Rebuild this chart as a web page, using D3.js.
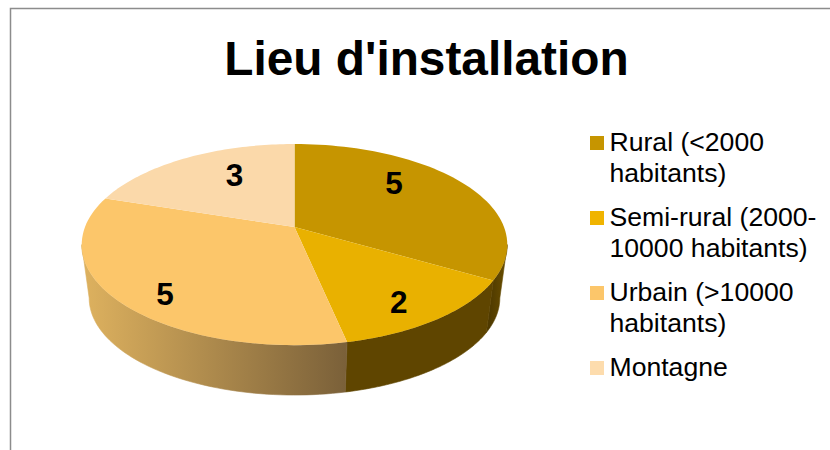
<!DOCTYPE html>
<html lang="fr">
<head>
	<meta charset="utf-8">
	<title>Lieu d'installation</title>
	<script src="https://d3js.org/d3.v7.min.js"></script>
	<style>
		html, body { margin: 0; padding: 0; background: #fff; }
		svg { display: block; }
		text { font-family: "Liberation Sans", Arial, sans-serif; fill: #000; }
	</style>
</head>
<body>
	<script>
		var titleText = "Lieu d'installation";
		var categories = ["Rural", "Semi-rural", "Urbain", "Montagne"];
		var values = [5, 2, 5, 3];
		var legendLines = [
			["Rural (<2000", "habitants)"],
			["Semi-rural (2000-", "10000 habitants)"],
			["Urbain (>10000", "habitants)"],
			["Montagne"]
		];
		var topColors = ["#c69500", "#e9b100", "#fcc66a", "#fbd9aa"];
		var legendColors = ["#c69500", "#f0b400", "#fcc66a", "#fddcad"];

		var w = 830;
		var h = 450;

		var svg = d3.select("body")
			.append("svg")
			.attr("width", w)
			.attr("height", h);

		// shading of the side wall, one gradient per slice
		var sideStops = [
			["#6b4f00", "#4f3a00"],
			["#5f4500", "#5f4500"],
			["#dcb05e", "#7a6039"],
			["#d9b06a", "#d9b06a"]
		];
		var defs = svg.append("defs");
		sideStops.forEach(function(s, i) {
			var g = defs.append("linearGradient")
				.attr("id", "side" + i)
				.attr("gradientUnits", "userSpaceOnUse")
				.attr("x1", i == 2 ? 88 : (i == 0 ? 507 : 347))
				.attr("x2", i == 2 ? 347 : 490)
				.attr("y1", 0)
				.attr("y2", 0);
			g.append("stop").attr("offset", "0%").attr("stop-color", s[0]);
			g.append("stop").attr("offset", "100%").attr("stop-color", s[1]);
		});

		// chart frame, only top and left show
		svg.append("path")
			.attr("d", "M10.5,450V8.5H830")
			.attr("fill", "none")
			.attr("stroke", "#8c8c8c")
			.attr("stroke-width", 1.5);

		svg.append("text")
			.attr("x", 426.5)
			.attr("y", 75)
			.attr("text-anchor", "middle")
			.attr("font-size", 47.8)
			.attr("font-weight", "bold")
			.text(titleText);

		// disc in perspective: unit circle -> screen, nearer edge is bigger
		var k = 0.175;
		function project(t, r, face) {
			var u = r * Math.sin(t);
			var v = -r * Math.cos(t);
			var d = 1 - k * v;
			var scale = face == "bottom" ? 0.965 : 1;
			var y0 = face == "bottom" ? 281 : 227;
			return [294.5 + scale * 209.5 * u / d, y0 + scale * 97.5 * v / d];
		}

		var pie = d3.pie().sort(null)(values);
		var line = d3.line();

		function sample(a0, a1, face) {
			return d3.range(0, 61).map(function(i) {
				return project(a0 + (a1 - a0) * i / 60, 1, face);
			});
		}

		// the wall is only seen between the two silhouette angles
		var frontStart = Math.acos(-k);
		var frontEnd = 2 * Math.PI - frontStart;

		var sides = pie.filter(function(d) {
			return d.endAngle > frontStart && d.startAngle < frontEnd;
		});

		svg.selectAll("path.side")
			.data(sides)
			.enter()
			.append("path")
			.attr("class", "side")
			.attr("fill", function(d) { return "url(#side" + d.index + ")"; })
			.attr("stroke", function(d) { return "url(#side" + d.index + ")"; })
			.attr("stroke-width", 0.6)
			.attr("d", function(d) {
				var a0 = Math.max(d.startAngle, frontStart);
				var a1 = Math.min(d.endAngle, frontEnd);
				return line(sample(a0, a1, "top").concat(sample(a0, a1, "bottom").reverse())) + "Z";
			});

		svg.selectAll("path.slice")
			.data(pie)
			.enter()
			.append("path")
			.attr("class", "slice")
			.attr("fill", function(d) { return topColors[d.index]; })
			.attr("d", function(d) {
				return line([project(0, 0, "top")].concat(sample(d.startAngle, d.endAngle, "top"))) + "Z";
			});

		// manual nudges from the projected mid point, like the original labels
		var labelNudge = [[-4, -16], [23.5, 23], [-29, 24.5], [8, -8]];
		svg.selectAll("text.value")
			.data(pie)
			.enter()
			.append("text")
			.attr("class", "value")
			.attr("text-anchor", "middle")
			.attr("font-size", 31.5)
			.attr("font-weight", "bold")
			.attr("x", function(d) {
				return project((d.startAngle + d.endAngle) / 2, 0.6, "top")[0] + labelNudge[d.index][0];
			})
			.attr("y", function(d) {
				return project((d.startAngle + d.endAngle) / 2, 0.6, "top")[1] + labelNudge[d.index][1] + 11;
			})
			.text(function(d) { return d.data; });

		// legend
		var legendY = d3.scalePoint()
			.domain(categories)
			.range([136, 361]);

		var legend = svg.selectAll("g.legend")
			.data(categories)
			.enter()
			.append("g")
			.attr("class", "legend")
			.attr("transform", function(d) { return "translate(590," + legendY(d) + ")"; });

		legend.append("rect")
			.attr("width", 14)
			.attr("height", 14)
			.attr("fill", function(d, i) { return legendColors[i]; });

		legend.each(function(d, i) {
			d3.select(this).selectAll("text")
				.data(legendLines[i])
				.enter()
				.append("text")
				.attr("x", 19.5)
				.attr("y", function(l, j) { return 15 + j * 31; })
				.attr("font-size", 26.6)
				.text(function(l) { return l; });
		});
	</script>
</body>
</html>
